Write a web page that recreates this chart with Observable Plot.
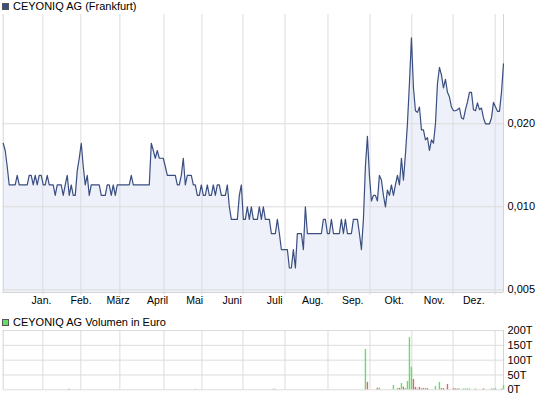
<!DOCTYPE html>
<html>
<head>
<meta charset="utf-8">
<script src="https://cdn.jsdelivr.net/npm/d3@7"></script>
<script src="https://cdn.jsdelivr.net/npm/@observablehq/plot@0.6"></script>
<style>
  html, body { margin: 0; padding: 0; background: #fff; }
  #wrap { position: relative; width: 545px; height: 398px; font-family: "Liberation Sans", Arial, sans-serif; }
  .ttl { position: absolute; left: 13px; font-size: 11px; line-height: 13px; color: #000; white-space: nowrap; }
  .sq { position: absolute; left: 2px; width: 5px; height: 5px; border: 1px solid #555; }
  .chart { position: absolute; left: 0; }
</style>
</head>
<body>
<div id="wrap">
  <div class="sq" style="top:3px;background:#3a4e80"></div>
  <div class="ttl" style="top:0px">CEYONIQ AG (Frankfurt)</div>
  <div class="sq" style="top:319px;background:#66dd66"></div>
  <div class="ttl" style="top:316px">CEYONIQ AG Volumen in Euro</div>
</div>
<script>
// Daily closing prices (EUR), trading-day index 0..250
const prices = [
  .017,.016,.014,.012,.012,.012,.012,.013,.012,.012,
  .012,.012,.012,.013,.013,.012,.013,.012,.013,.013,
  .012,.012,.013,.012,.012,.012,.011,.012,.012,.012,
  .011,.012,.013,.011,.012,.011,.011,.0135,.015,.017,
  .014,.012,.013,.011,.012,.012,.012,.012,.012,.011,
  .011,.011,.012,.012,.011,.012,.011,.012,.012,.012,
  .012,.012,.012,.012,.013,.012,.012,.012,.012,.012,
  .012,.012,.012,.012,.017,.016,.015,.016,.015,.015,
  .015,.014,.013,.013,.013,.013,.013,.012,.012,.013,
  .015,.012,.013,.013,.013,.012,.012,.011,.011,.012,
  .011,.011,.012,.011,.011,.012,.011,.012,.012,.011,
  .011,.011,.012,.010,.009,.009,.009,.009,.011,.012,
  .009,.009,.010,.009,.010,.009,.009,.009,.010,.009,
  .010,.009,.009,.009,.008,.008,.008,.009,.008,.007,
  .007,.007,.007,.006,.006,.007,.006,.008,.008,.008,
  .007,.010,.008,.008,.008,.008,.008,.008,.008,.008,
  .009,.009,.008,.008,.009,.008,.008,.008,.008,.009,
  .008,.009,.008,.008,.008,.009,.009,.009,.008,.007,
  .009,.014,.018,.013,.0105,.011,.011,.0105,.013,.0125,
  .011,.010,.0115,.011,.012,.011,.012,.013,.012,.015,
  .0125,.0155,.020,.028,.041,.027,.0223,.022,.023,.019,
  .019,.0175,.0178,.016,.0175,.017,.020,.028,.032,.030,
  .027,.029,.026,.025,.023,.0223,.0223,.0225,.0228,.021,
  .0208,.0225,.024,.026,.026,.0225,.0223,.0238,.0225,.0228,
  .021,.020,.020,.020,.021,.0239,.023,.0222,.0222,.026,.033
];
// Month start positions on the trading-day axis (grid lines)
const monthGrid = [19.8, 38.8, 58.3, 80.3, 99.3, 119.8, 140.8, 162.3, 183.3, 204.2, 224.8, 245.8];
// Month labels and their positions on the trading-day axis
const monthLabels = ["Jan.", "Feb.", "März", "April", "Mai", "Juni", "Juli", "Aug.", "Sep.", "Okt.", "Nov.", "Dez."];
const monthLabelPos = [19.15, 38.9, 57.4, 77.15, 95.65, 114.4, 135.65, 154.65, 174.65, 195.4, 215.4, 235.15];
// Price axis ticks
const yTicks = [0.005, 0.010, 0.020];
const yTickLabels = ["0,005", "0,010", "0,020"];
const yDomain = [0.00489, 0.0498];
// Volume (thousand EUR) by trading-day index
const volIdx = [33,96,135,136,181,182,187,188,195,197,198,199,200,201,202,203,204,205,206,207,208,209,210,211,212,216,218,219,220,222,225,226,227,228,230,231,232,233,236,240,244,245,246,249,250];
const volVal = [1.5,1.5,2,2,136,25,5.5,5.5,14.5,5,5,21,9,4,28,176,76,35,8,3,8,4,4,4,4,11,25,4,4,18,4,3,3,3,3,3,3,3,3,3,3,3,3,3,14];
const volDir = ["down","flat","flat","flat","up","down","down","up","up","up","down","up","down","flat","up","up","up","down","down","flat","down","up","down","flat","down","up","up","down","down","down","down","down","down","up","up","up","up","up","up","down","up","up","down","up","up"];
const volTicks = [0, 50, 100, 150, 200];
const volTickLabels = ["0T", "50T", "100T", "150T", "200T"];

const gridColor = "#dcdcdc";
const font = {fontFamily: "Liberation Sans, Arial, sans-serif", fontSize: "11px", color: "#000", background: "transparent", overflow: "visible"};

const idx = prices.map((d, i) => i);

const topChart = Plot.plot({
  width: 545, height: 312,
  marginTop: 14, marginBottom: 20, marginLeft: 2.7, marginRight: 42,
  style: font,
  x: {domain: [0, prices.length - 1], axis: null},
  y: {type: "log", domain: yDomain, axis: null},
  marks: [
    Plot.areaY(prices, {x: idx, y1: yDomain[0], y2: prices, fill: "#eef1fa"}),
    Plot.ruleX(monthGrid, {x: monthGrid, stroke: gridColor, insetBottom: -3}),
    Plot.ruleY(yTicks, {y: yTicks, stroke: gridColor}),
    Plot.ruleX([0, prices.length - 1], {stroke: "#d4d4d4"}),
    Plot.ruleY([yDomain[0]], {stroke: "#d4d4d4"}),
    Plot.lineY(prices, {x: idx, y: prices, stroke: "#3a4e80", strokeWidth: 1.2}),
    Plot.text(monthLabels, {x: monthLabelPos, text: monthLabels, frameAnchor: "bottom", dy: 11.6, fontSize: 10.5, fill: "#000"}),
    Plot.text(yTickLabels, {y: yTicks, text: yTickLabels, frameAnchor: "right", dx: 4, textAnchor: "start", fill: "#000"})
  ]
});

const volChart = Plot.plot({
  width: 545, height: 86,
  marginTop: 18, marginBottom: 8.7, marginLeft: 2.7, marginRight: 42,
  style: font,
  x: {domain: [0, prices.length - 1], axis: null},
  y: {domain: [0, 200], axis: null},
  color: {type: "ordinal", domain: ["up", "down", "flat"], range: ["#66dd66", "#dd6666", "#aaaaaa"]},
  marks: [
    Plot.ruleY(volTicks, {y: volTicks, stroke: gridColor}),
    Plot.ruleX(monthGrid, {x: monthGrid, stroke: gridColor}),
    Plot.ruleX([0, prices.length - 1], {stroke: "#d4d4d4"}),
    Plot.ruleX(volIdx, {x: volIdx, y1: 0, y2: volVal, stroke: volDir, strokeWidth: 1.4}),
    Plot.text(volTickLabels, {y: volTicks, text: volTickLabels, frameAnchor: "right", dx: 4, textAnchor: "start", fill: "#000"})
  ]
});

topChart.classList.add("chart");
topChart.style.top = "0px";
volChart.classList.add("chart");
volChart.style.top = "312px";
const wrap = document.getElementById("wrap");
wrap.prepend(volChart);
wrap.prepend(topChart);
</script>
</body>
</html>
